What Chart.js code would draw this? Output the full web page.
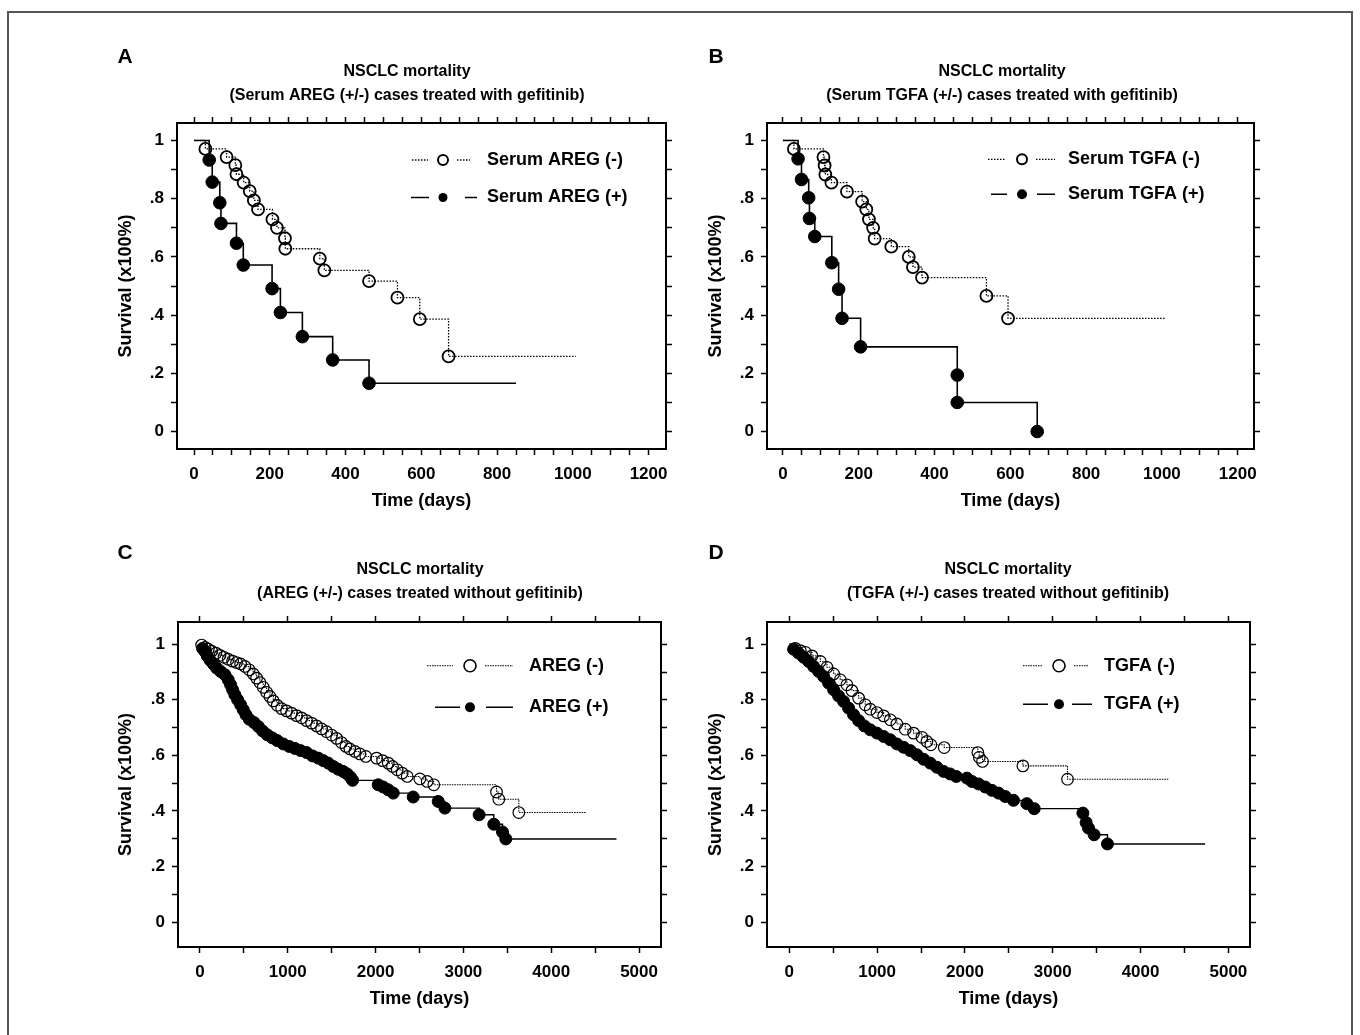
<!DOCTYPE html>
<html lang="en">

<head>
    <meta charset="UTF-8">
    <script src="https://cdn.jsdelivr.net/npm/chart.js@4.4.1/dist/chart.umd.min.js"></script>
    <title>NSCLC mortality</title>
    <style>
        body { margin: 0; background: #fff; width: 1360px; height: 1035px; overflow: hidden; position: relative; }
        #frame { position: absolute; left: 7px; top: 11px; width: 1342px; height: 1100px; border: 2px solid #555; }
        canvas { position: absolute; }
    </style>
</head>

<body>
    <div id="frame"></div>
    <canvas id="chartA" width="614" height="480" style="left:100px;top:40px"></canvas>
    <canvas id="chartB" width="624" height="480" style="left:690px;top:40px"></canvas>
    <canvas id="chartC" width="640" height="482" style="left:100px;top:536px"></canvas>
    <canvas id="chartD" width="636" height="482" style="left:690px;top:536px"></canvas>

    <script>
        // ---------- data ----------
        const xTicksShort = [0, 200, 400, 600, 800, 1000, 1200]
        const xTicksLong = [0, 1000, 2000, 3000, 4000, 5000]
        const yTicks = [0, 0.2, 0.4, 0.6, 0.8, 1]
        const yTickLabels = ['0', '.2', '.4', '.6', '.8', '1']

        // A: serum AREG, gefitinib
        const aNegDays = [30, 86, 109, 112, 131, 147, 158, 169, 207, 219, 240, 241, 332, 344, 462, 537, 596, 672]
        const aNegSurv = [.971, .943, .915, .884, .855, .826, .794, .763, .729, .700, .664, .628, .594, .554, .517, .460, .386, .258]
        const aNegEnd = 1008
        const aPosDays = [40, 48, 68, 71, 112, 130, 206, 228, 286, 366, 462]
        const aPosSurv = [.933, .857, .786, .715, .647, .572, .491, .409, .326, .246, .166]
        const aPosEnd = 850

        // B: serum TGFA, gefitinib
        const bNegDays = [29, 107, 110, 112, 128, 169, 209, 220, 227, 238, 242, 286, 332, 343, 367, 537, 594]
        const bNegSurv = [.971, .943, .914, .883, .855, .824, .790, .763, .729, .700, .663, .635, .600, .565, .529, .466, .389]
        const bNegEnd = 1009
        const bPosDays = [40, 49, 68, 70, 84, 129, 147, 156, 205, 460, 460, 671]
        const bPosSurv = [.937, .866, .803, .732, .670, .580, .489, .389, .291, .194, .100, 0]
        const bPosEnd = null

        // C: AREG, no gefitinib
        const cNegDays = [19, 57, 95, 133, 182, 228, 273, 322, 372, 417, 463, 512, 561, 607, 645, 683, 721, 759, 797, 835,
            880, 930, 986, 1043, 1100, 1157, 1214, 1271, 1328, 1385, 1442, 1499, 1556, 1612, 1662, 1707, 1764, 1821, 1889, 2011,
            2079, 2144, 2193, 2246, 2303, 2360, 2504, 2587, 2663, 3377, 3403, 3631]
        const cNegSurv = [.997, .989, .982, .975, .968, .960, .953, .946, .939, .934, .929, .920, .908, .893, .878, .862, .845, .827, .812, .796,
            .780, .768, .760, .752, .743, .735, .725, .716, .706, .695, .685, .673, .661, .646, .632, .623, .614, .605, .596, .590,
            .581, .572, .560, .548, .536, .524, .515, .506, .494, .468, .442, .394]
        const cNegEnd = 4393
        const cPosDays = [30, 57, 83, 114, 152, 190, 235, 285, 322, 349, 372, 398, 429, 463, 493, 524, 561, 615, 664, 713,
            766, 823, 880, 949, 1017, 1081, 1146, 1214, 1282, 1347, 1404, 1461, 1518, 1574, 1631, 1677, 1715, 1738, 2030, 2087,
            2144, 2201, 2428, 2713, 2789, 3179, 3346, 3445, 3483]
        const cPosSurv = [.985, .974, .958, .943, .929, .914, .902, .890, .872, .854, .836, .818, .800, .782, .764, .746, .730, .718, .704, .688,
            .674, .663, .653, .641, .632, .625, .617, .610, .598, .590, .581, .572, .560, .550, .542, .533, .521, .510, .494, .486,
            .476, .464, .450, .434, .410, .386, .352, .324, .299]
        const cPosEnd = 4743

        // D: TGFA, no gefitinib
        const dNegDays = [68, 125, 182, 258, 353, 429, 505, 580, 656, 713, 789, 865, 922, 998, 1074, 1150, 1225, 1320, 1415, 1510,
            1567, 1612, 1764, 2147, 2163, 2200, 2660, 3168]
        const dNegSurv = [.985, .977, .971, .958, .938, .917, .893, .872, .854, .833, .806, .782, .766, .754, .742, .728, .713, .694, .680, .665,
            .650, .638, .628, .610, .593, .578, .562, .514]
        const dNegEnd = 4317
        const dPosDays = [49, 106, 163, 220, 277, 334, 391, 448, 505, 561, 618, 675, 732, 789, 854, 922, 998, 1074, 1150, 1225,
            1301, 1377, 1453, 1529, 1605, 1681, 1757, 1832, 1901, 2022, 2079, 2155, 2231, 2307, 2383, 2458, 2553, 2705, 2789, 3343,
            3380, 3407, 3471, 3623]
        const dPosSurv = [.982, .968, .953, .938, .920, .902, .884, .860, .836, .814, .794, .770, .746, .725, .706, .692, .680, .668, .656, .641,
            .629, .617, .602, .586, .572, .557, .542, .533, .524, .518, .506, .497, .486, .474, .464, .452, .438, .426, .408, .392,
            .358, .338, .314, .281]
        const dPosEnd = 4735

        // ---------- helpers ----------
        const sans = '"Liberation Sans", Arial, Helvetica, sans-serif'
        Chart.defaults.font.family = sans
        Chart.defaults.font.weight = 'bold'
        Chart.defaults.font.size = 17
        Chart.defaults.color = '#000'

        function kmPoints(days, surv, end) {
            const pts = [{ x: 0, y: 1 }]
            days.forEach((d, i) => pts.push({ x: d, y: surv[i] }))
            if (end != null) pts.push({ x: end, y: surv[surv.length - 1] })
            return pts
        }

        function tickList(major, step) {
            const out = []
            for (let v = major[0]; v <= major[major.length - 1] + 1e-9; v += step) out.push(+v.toFixed(4))
            return out
        }

        function labelFor(major, labels) {
            return v => {
                const i = major.findIndex(m => Math.abs(m - v) < 1e-6)
                return i >= 0 ? labels[i] : ''
            }
        }

        function kmDataset(label, days, surv, end, filled, r, bw, dash, lw) {
            const pts = kmPoints(days, surv, end)
            const last = pts.length - 1
            return {
                label,
                data: pts,
                stepped: true,
                borderColor: '#000',
                borderWidth: lw,
                borderDash: dash,
                fill: false,
                pointRadius: c => (c.dataIndex === 0 || (end != null && c.dataIndex === last)) ? 0 : r,
                pointHoverRadius: 0,
                pointBorderWidth: bw,
                pointBorderColor: '#000',
                pointBackgroundColor: filled ? '#000' : 'rgba(0,0,0,0)'
            }
        }

        const panelLetter = {
            id: 'panelLetter',
            afterDraw(chart, args, o) {
                const ctx = chart.ctx
                ctx.save()
                ctx.font = 'bold 21px ' + sans
                ctx.fillStyle = '#000'
                ctx.textAlign = 'center'
                ctx.textBaseline = 'middle'
                ctx.fillText(o.text, o.x, o.y)
                ctx.restore()
            }
        }

        const kmLegend = {
            id: 'kmLegend',
            afterDraw(chart, args, o) {
                const { ctx, chartArea } = chart
                const L = chartArea.left, T = chartArea.top
                o.rows.forEach((row, i) => {
                    const ds = chart.data.datasets[i]
                    const y = T + row.y
                    ctx.save()
                    ctx.strokeStyle = '#000'
                    ctx.lineWidth = ds.borderWidth
                    ctx.setLineDash(ds.borderDash || [])
                    ctx.beginPath()
                    ctx.moveTo(L + row.l1, y); ctx.lineTo(L + row.l2, y)
                    ctx.moveTo(L + row.r1, y); ctx.lineTo(L + row.r2, y)
                    ctx.stroke()
                    ctx.setLineDash([])
                    ctx.beginPath()
                    ctx.arc(L + o.cx, y, row.r, 0, Math.PI * 2)
                    if (row.filled) { ctx.fillStyle = '#000'; ctx.fill() }
                    else { ctx.lineWidth = row.bw; ctx.stroke() }
                    ctx.fillStyle = '#000'
                    ctx.font = 'bold 18px ' + sans
                    ctx.textBaseline = 'middle'
                    ctx.fillText(ds.label, L + o.tx, y)
                    ctx.restore()
                })
            }
        }
        Chart.register(panelLetter, kmLegend)

        function axisBase(min, max, ticks, fitFn) {
            return {
                type: 'linear', min, max,
                afterBuildTicks: s => { s.ticks = ticks.map(v => ({ value: v })) },
                afterFit: fitFn,
                grid: { drawOnChartArea: false, drawTicks: true, tickLength: 6, tickWidth: 1.5, tickColor: '#000' },
                border: { display: true, color: '#000', width: 2 }
            }
        }

        function makePanel(id, p) {
            const xMinor = tickList(p.xMajor, p.xStep)
            const yMinor = tickList(yTicks, 0.1)
            const x = axisBase(p.xMin, p.xMax, xMinor, s => { s.height = p.bottomH })
            x.position = 'bottom'
            x.ticks = { autoSkip: false, maxRotation: 0, padding: 9, callback: labelFor(p.xMajor, p.xMajor.map(String)) }
            x.title = { display: true, text: 'Time (days)', font: { size: 18, weight: 'bold' }, padding: { top: 0, bottom: 8 } }
            const x2 = axisBase(p.xMin, p.xMax, xMinor, s => { s.height = p.topH })
            x2.position = 'top'
            x2.ticks = { display: false }
            const y = axisBase(p.yMin, p.yMax, yMinor, s => { s.width = p.leftW })
            y.position = 'left'
            y.ticks = { autoSkip: false, padding: 7, callback: labelFor(yTicks, yTickLabels) }
            y.title = { display: true, text: 'Survival (x100%)', font: { size: 18, weight: 'bold' }, padding: { top: 15, bottom: 0 } }
            const y2 = axisBase(p.yMin, p.yMax, yMinor, s => { s.width = p.rightW })
            y2.position = 'right'
            y2.ticks = { display: false }

            return new Chart(document.getElementById(id), {
                type: 'line',
                data: { datasets: p.datasets },
                options: {
                    responsive: false,
                    animation: false,
                    events: [],
                    layout: { padding: 0 },
                    scales: { x, x2, y, y2 },
                    plugins: {
                        legend: { display: false },
                        tooltip: { enabled: false },
                        title: {
                            display: true, text: p.title, color: '#000',
                            font: { family: sans, size: 16, weight: 'bold', lineHeight: 1.5 },
                            padding: { top: p.titlePad, bottom: 0 }
                        },
                        subtitle: {
                            display: true, text: p.subtitle, color: '#000',
                            font: { family: sans, size: 16, weight: 'bold', lineHeight: 1.5 },
                            padding: 0
                        },
                        panelLetter: { text: p.letter, x: p.letterX, y: 17 },
                        kmLegend: p.legend
                    }
                }
            })
        }

        const dotted = [1.5, 1.5]

        makePanel('chartA', {
            letter: 'A', letterX: 25, titlePad: 20,
            title: 'NSCLC mortality', subtitle: '(Serum AREG (+/-) cases treated with gefitinib)',
            xMajor: xTicksShort, xStep: 50, xMin: -45, xMax: 1246, yMin: -0.06, yMax: 1.06,
            leftW: 77, rightW: 48, topH: 15, bottomH: 71,
            datasets: [
                kmDataset('Serum AREG (-)', aNegDays, aNegSurv, aNegEnd, false, 6, 1.8, dotted, 1.3),
                kmDataset('Serum AREG (+)', aPosDays, aPosSurv, aPosEnd, true, 6.3, 1, [], 1.6)
            ],
            legend: {
                cx: 266, tx: 310, rows: [
                    { y: 37, l1: 235, l2: 251, r1: 280, r2: 293, r: 5, bw: 2, filled: false },
                    { y: 74.5, l1: 234, l2: 252, r1: 288, r2: 300, r: 4.5, filled: true }
                ]
            }
        })

        makePanel('chartB', {
            letter: 'B', letterX: 26, titlePad: 20,
            title: 'NSCLC mortality', subtitle: '(Serum TGFA (+/-) cases treated with gefitinib)',
            xMajor: xTicksShort, xStep: 50, xMin: -42, xMax: 1243, yMin: -0.06, yMax: 1.06,
            leftW: 77, rightW: 60, topH: 15, bottomH: 71,
            datasets: [
                kmDataset('Serum TGFA (-)', bNegDays, bNegSurv, bNegEnd, false, 6, 1.8, dotted, 1.3),
                kmDataset('Serum TGFA (+)', bPosDays, bPosSurv, bPosEnd, true, 6.3, 1, [], 1.6)
            ],
            legend: {
                cx: 255, tx: 301, rows: [
                    { y: 36.3, l1: 221, l2: 238, r1: 269, r2: 288, r: 5, bw: 2, filled: false },
                    { y: 71.3, l1: 224, l2: 240, r1: 270, r2: 288, r: 5, filled: true }
                ]
            }
        })

        makePanel('chartC', {
            letter: 'C', letterX: 25, titlePad: 22,
            title: 'NSCLC mortality', subtitle: '(AREG (+/-) cases treated without gefitinib)',
            xMajor: xTicksLong, xStep: 500, xMin: -250, xMax: 5250, yMin: -0.09, yMax: 1.08,
            leftW: 78, rightW: 79, topH: 16, bottomH: 71,
            datasets: [
                kmDataset('AREG (-)', cNegDays, cNegSurv, cNegEnd, false, 5.8, 1.2, [1.5, 1], 1.1),
                kmDataset('AREG (+)', cPosDays, cPosSurv, cPosEnd, true, 6, 1, [], 1.4)
            ],
            legend: {
                cx: 292, tx: 351, rows: [
                    { y: 43.7, l1: 249, l2: 275, r1: 307, r2: 335, r: 6, bw: 1.6, filled: false },
                    { y: 85.3, l1: 257, l2: 282, r1: 308, r2: 335, r: 5, filled: true }
                ]
            }
        })

        makePanel('chartD', {
            letter: 'D', letterX: 26, titlePad: 22,
            title: 'NSCLC mortality', subtitle: '(TGFA (+/-) cases treated without gefitinib)',
            xMajor: xTicksLong, xStep: 500, xMin: -254, xMax: 5246, yMin: -0.09, yMax: 1.08,
            leftW: 77, rightW: 76, topH: 16, bottomH: 71,
            datasets: [
                kmDataset('TGFA (-)', dNegDays, dNegSurv, dNegEnd, false, 5.8, 1.2, [1.5, 1], 1.1),
                kmDataset('TGFA (+)', dPosDays, dPosSurv, dPosEnd, true, 6, 1, [], 1.4)
            ],
            legend: {
                cx: 292, tx: 337, rows: [
                    { y: 43.7, l1: 256, l2: 276, r1: 307, r2: 322, r: 6, bw: 1.6, filled: false },
                    { y: 82.3, l1: 256, l2: 281, r1: 305, r2: 325, r: 5, filled: true }
                ]
            }
        })
    </script>
</body>

</html>
